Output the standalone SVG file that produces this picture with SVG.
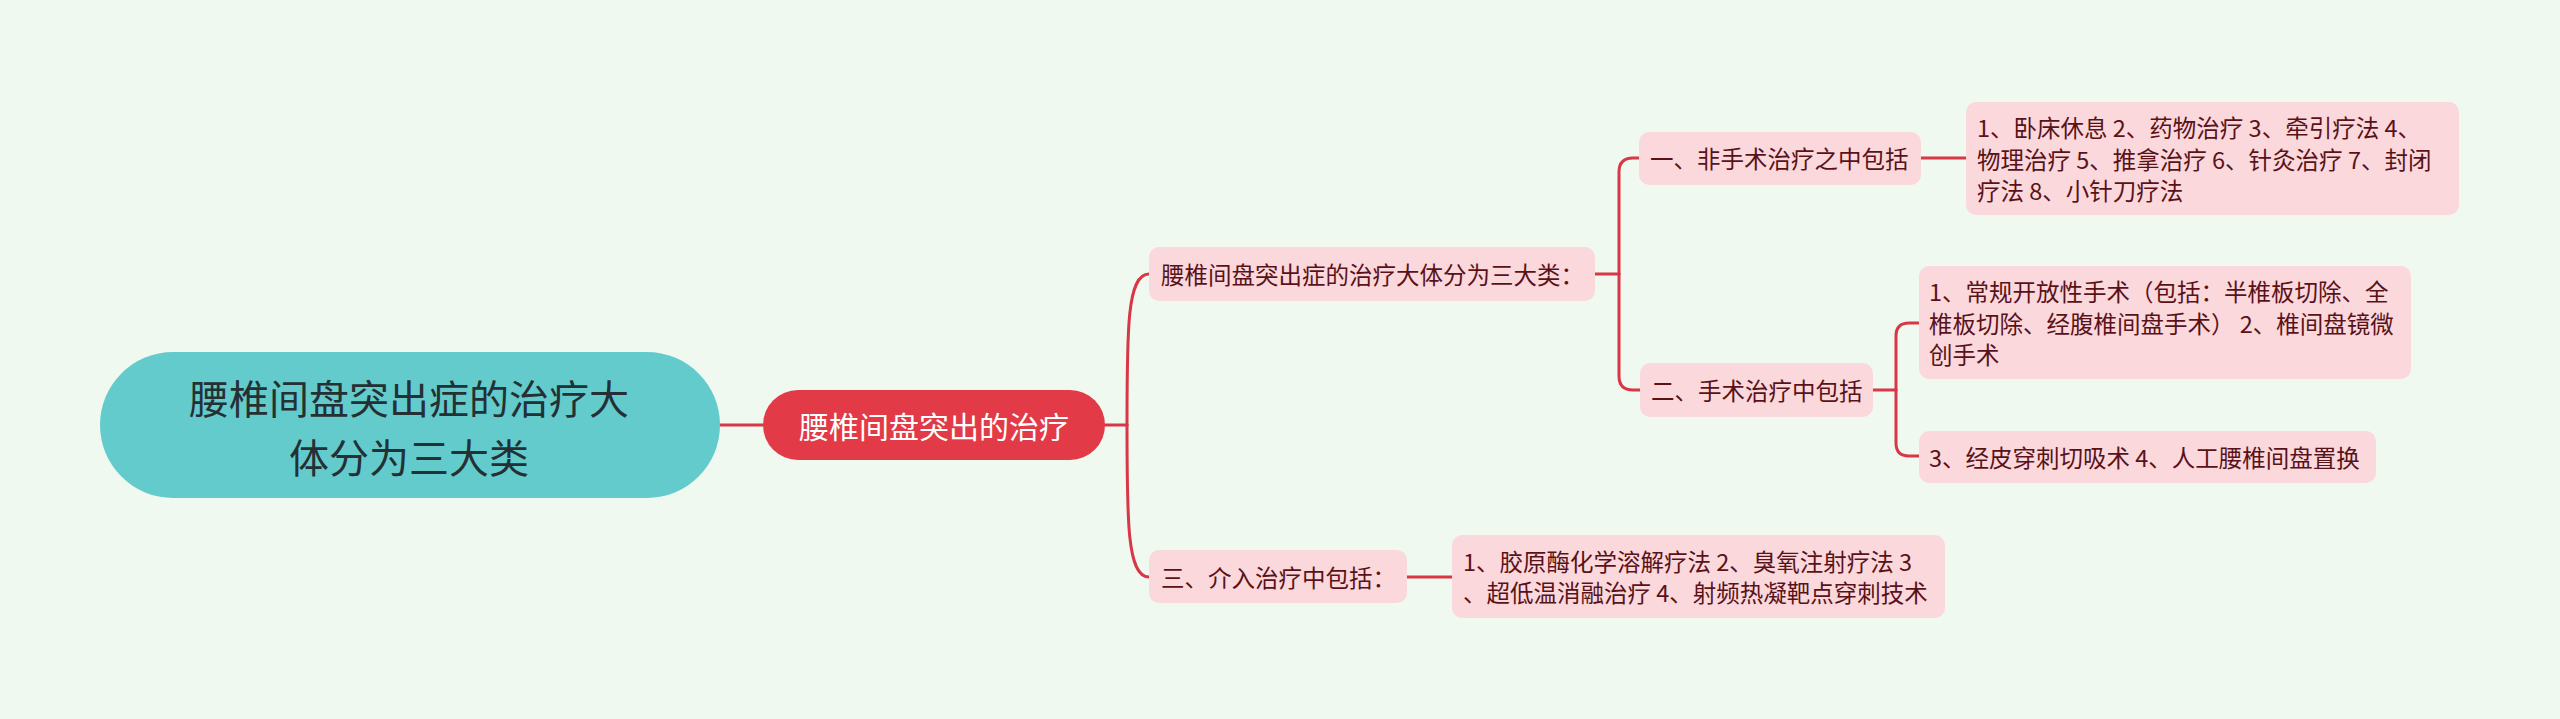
<svg xmlns="http://www.w3.org/2000/svg" width="2560" height="719" viewBox="0 0 2560 719">
<style>
.t{font-family:"Noto Sans CJK SC","Noto Sans",sans-serif;dominant-baseline:central}
.pink{fill:#fbd8dc}
.pt{font-size:23.5px;fill:#5a1219}
.ln{fill:none;stroke:#d83748;stroke-width:3;stroke-linecap:round}
</style>
<rect x="0" y="0" width="2560" height="719" fill="#f0f9ef"/>
<g id="connectors">
<path class="ln" d="M720 425 H763"/>
<path class="ln" d="M1105 425 H1127"/>
<path class="ln" d="M1127 425 C1127 330 1127 274 1149 274"/>
<path class="ln" d="M1127 425 C1127 520 1127 577 1149 577"/>
<path class="ln" d="M1595 274 H1619"/>
<path class="ln" d="M1619 274 V172 Q1619 158 1633 158 H1639"/>
<path class="ln" d="M1619 274 V376 Q1619 390 1633 390 H1640"/>
<path class="ln" d="M1921 158 H1966"/>
<path class="ln" d="M1873 390 H1896"/>
<path class="ln" d="M1896 390 V336 Q1896 323 1909 323 H1919"/>
<path class="ln" d="M1896 390 V443 Q1896 456 1909 456 H1919"/>
<path class="ln" d="M1407 577 H1452"/>
</g>
<g id="root">
<rect x="100" y="352" width="620" height="146" rx="73" fill="#63cbcc"/>
<text class="t" x="409" y="397" text-anchor="middle" font-size="40" fill="#243033">腰椎间盘突出症的治疗大</text>
<text class="t" x="409" y="456" text-anchor="middle" font-size="40" fill="#243033">体分为三大类</text>
</g>
<g id="main">
<rect x="763" y="390" width="342" height="70" rx="35" fill="#e33a48"/>
<text class="t" x="934" y="425" text-anchor="middle" font-size="30" fill="#ffffff">腰椎间盘突出的治疗</text>
</g>
<g id="n-three-types">
<rect class="pink" x="1149" y="247" width="446" height="54" rx="10"/>
<text class="t pt" x="1161" y="274">腰椎间盘突出症的治疗大体分为三大类：</text>
</g>
<g id="n-nonsurgical">
<rect class="pink" x="1639" y="132" width="282" height="53" rx="10"/>
<text class="t pt" x="1650" y="158">一、非手术治疗之中包括</text>
</g>
<g id="n-nonsurgical-list">
<rect class="pink" x="1966" y="102" width="493" height="113" rx="10"/>
<text class="t pt" x="1977" y="127">1、卧床休息 2、药物治疗 3、牵引疗法 4、</text>
<text class="t pt" x="1977" y="158.5">物理治疗 5、推拿治疗 6、针灸治疗 7、封闭</text>
<text class="t pt" x="1977" y="190">疗法 8、小针刀疗法</text>
</g>
<g id="n-surgical">
<rect class="pink" x="1640" y="363" width="233" height="54" rx="10"/>
<text class="t pt" x="1651" y="390">二、手术治疗中包括</text>
</g>
<g id="n-surgical-a">
<rect class="pink" x="1919" y="266" width="492" height="113" rx="10"/>
<text class="t pt" x="1929" y="291">1、常规开放性手术（包括：半椎板切除、全</text>
<text class="t pt" x="1929" y="322.5">椎板切除、经腹椎间盘手术） 2、椎间盘镜微</text>
<text class="t pt" x="1929" y="354">创手术</text>
</g>
<g id="n-surgical-b">
<rect class="pink" x="1919" y="431" width="457" height="52" rx="10"/>
<text class="t pt" x="1929" y="457">3、经皮穿刺切吸术 4、人工腰椎间盘置换</text>
</g>
<g id="n-interventional">
<rect class="pink" x="1149" y="550" width="258" height="53" rx="10"/>
<text class="t pt" x="1161" y="577">三、介入治疗中包括：</text>
</g>
<g id="n-interventional-list">
<rect class="pink" x="1452" y="535" width="493" height="83" rx="10"/>
<text class="t pt" x="1463" y="561">1、胶原酶化学溶解疗法 2、臭氧注射疗法 3</text>
<text class="t pt" x="1463" y="592">、超低温消融治疗 4、射频热凝靶点穿刺技术</text>
</g>
</svg>
